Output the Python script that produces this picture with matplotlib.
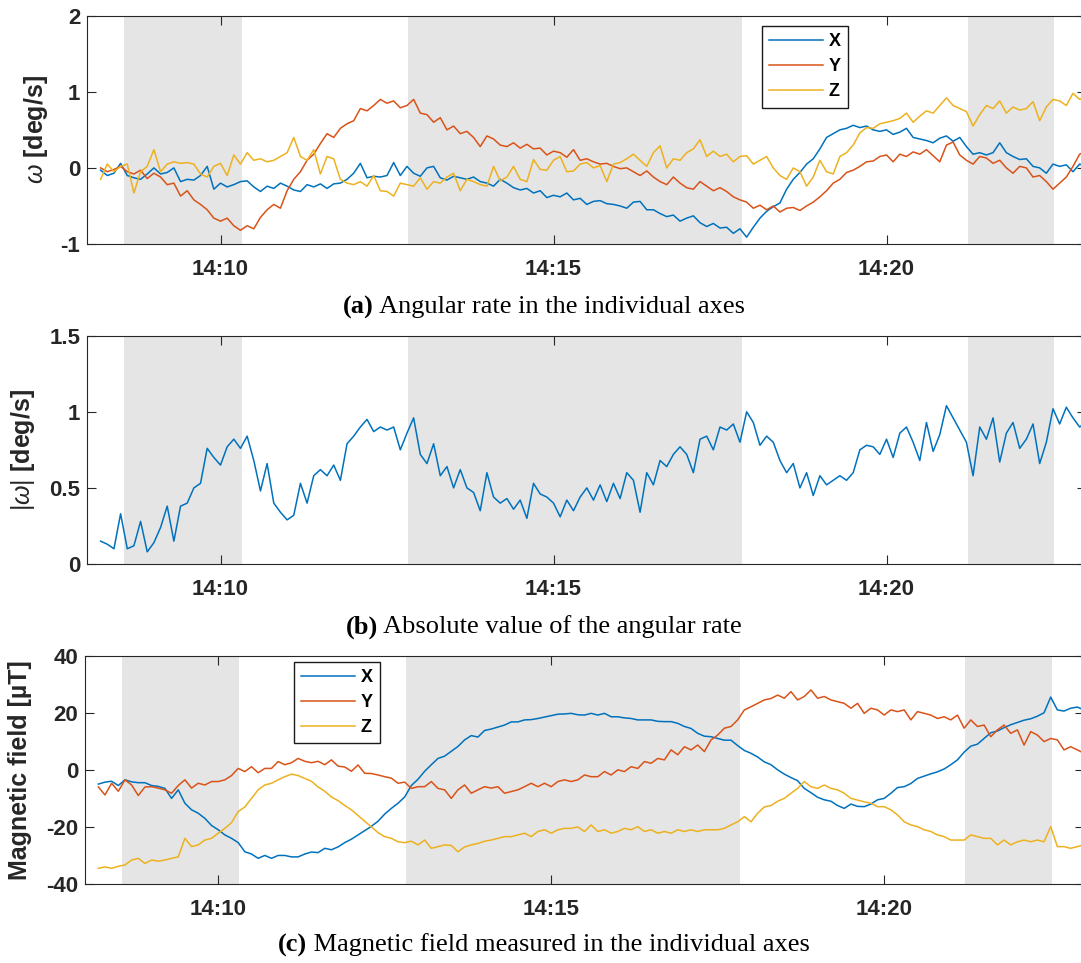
import numpy as np
import matplotlib
matplotlib.use("Agg")
import matplotlib.pyplot as plt
import matplotlib.dates as mdates

# ---------------------------------------------------------------------------
# Data: samples every 6 s starting at 14:08:12
# ---------------------------------------------------------------------------
start_time = "2019-01-01T14:08:12"
sample_step_s = 6

omega_x = [
    -0.03, -0.10, -0.07, 0.06, -0.10, -0.13, -0.15, -0.08, 0.00, -0.08,
    -0.06, 0.00, -0.18, -0.15, -0.16, -0.10, 0.02, -0.28, -0.20, -0.25,
    -0.22, -0.18, -0.17, -0.25, -0.31, -0.24, -0.27, -0.20, -0.24, -0.29,
    -0.31, -0.22, -0.25, -0.21, -0.27, -0.21, -0.20, -0.15, -0.07, 0.06,
    -0.13, -0.11, -0.12, -0.10, 0.07, -0.10, 0.02, -0.07, -0.11, 0.00,
    0.02, -0.13, -0.16, -0.11, -0.13, -0.15, -0.12, -0.18, -0.20, -0.24,
    -0.15, -0.20, -0.26, -0.29, -0.27, -0.33, -0.30, -0.39, -0.36, -0.38,
    -0.33, -0.42, -0.40, -0.48, -0.44, -0.43, -0.47, -0.48, -0.50, -0.53,
    -0.45, -0.44, -0.55, -0.55, -0.60, -0.64, -0.62, -0.70, -0.66, -0.63,
    -0.72, -0.77, -0.73, -0.79, -0.78, -0.86, -0.80, -0.91, -0.78, -0.66,
    -0.57, -0.51, -0.46, -0.28, -0.15, -0.06, 0.05, 0.12, 0.25, 0.40,
    0.45, 0.50, 0.52, 0.56, 0.53, 0.55, 0.50, 0.48, 0.50, 0.44,
    0.47, 0.52, 0.40, 0.38, 0.36, 0.33, 0.39, 0.42, 0.35, 0.40,
    0.28, 0.18, 0.20, 0.17, 0.20, 0.33, 0.20, 0.15, 0.11, 0.12,
    0.02, 0.00, -0.07, 0.05, 0.02, 0.04, -0.05, 0.05, 0.02,
]
omega_y = [
    0.00, -0.05, -0.02, 0.02, -0.05, -0.08, -0.03, -0.14, -0.07, -0.12,
    -0.22, -0.20, -0.37, -0.30, -0.42, -0.48, -0.55, -0.66, -0.70, -0.66,
    -0.76, -0.82, -0.76, -0.80, -0.65, -0.55, -0.48, -0.53, -0.30, -0.15,
    -0.05, 0.10, 0.18, 0.32, 0.45, 0.40, 0.52, 0.58, 0.62, 0.78,
    0.75, 0.82, 0.90, 0.85, 0.88, 0.79, 0.82, 0.90, 0.72, 0.70,
    0.60, 0.66, 0.50, 0.55, 0.45, 0.48, 0.40, 0.28, 0.42, 0.38,
    0.30, 0.28, 0.33, 0.26, 0.31, 0.25, 0.26, 0.17, 0.22, 0.20,
    0.14, 0.24, 0.10, 0.12, 0.08, 0.05, 0.06, 0.02, -0.01, 0.00,
    -0.05, -0.10, -0.04, -0.12, -0.18, -0.22, -0.12, -0.20, -0.26, -0.28,
    -0.18, -0.24, -0.30, -0.26, -0.31, -0.38, -0.42, -0.45, -0.53, -0.49,
    -0.55, -0.50, -0.58, -0.53, -0.52, -0.56, -0.50, -0.45, -0.38, -0.30,
    -0.20, -0.15, -0.06, -0.03, 0.02, 0.08, 0.09, 0.15, 0.17, 0.08,
    0.18, 0.15, 0.21, 0.18, 0.24, 0.16, 0.08, 0.30, 0.34, 0.17,
    0.10, 0.05, 0.15, 0.13, 0.06, 0.10, 0.00, -0.07, 0.02, 0.00,
    -0.12, -0.10, -0.18, -0.28, -0.20, -0.12, 0.02, 0.18, 0.22,
]
omega_z = [
    -0.15, 0.05, -0.05, 0.02, 0.05, -0.33, -0.05, 0.02, 0.24, -0.05,
    0.05, 0.08, 0.06, 0.07, 0.05, -0.08, -0.12, 0.02, 0.06, -0.10,
    0.17, 0.05, 0.20, 0.10, 0.12, 0.08, 0.10, 0.15, 0.20, 0.40,
    0.15, 0.10, 0.24, -0.08, 0.15, 0.12, -0.15, -0.20, -0.22, -0.18,
    -0.24, -0.10, -0.30, -0.31, -0.37, -0.20, -0.22, -0.24, -0.13, -0.28,
    -0.18, -0.20, -0.12, -0.07, -0.30, -0.15, -0.18, -0.22, -0.24, 0.02,
    -0.17, -0.12, 0.02, -0.15, -0.18, 0.11, -0.02, -0.03, 0.10, 0.15,
    -0.05, -0.04, 0.05, 0.07, 0.00, 0.03, -0.18, 0.05, 0.07, 0.12,
    0.18, 0.10, 0.02, 0.20, 0.29, 0.00, 0.12, 0.10, 0.20, 0.25,
    0.37, 0.15, 0.22, 0.15, 0.18, 0.08, 0.15, 0.16, 0.05, 0.10,
    0.15, 0.00, -0.10, -0.15, 0.00, -0.05, -0.24, -0.12, 0.10, -0.05,
    -0.08, 0.15, 0.20, 0.30, 0.46, 0.53, 0.52, 0.58, 0.60, 0.62,
    0.65, 0.72, 0.60, 0.68, 0.75, 0.72, 0.82, 0.92, 0.82, 0.78,
    0.74, 0.55, 0.70, 0.82, 0.78, 0.88, 0.72, 0.80, 0.76, 0.78,
    0.87, 0.62, 0.80, 0.90, 0.88, 0.82, 0.98, 0.90, 0.93,
]
omega_abs = [
    0.15, 0.13, 0.10, 0.33, 0.10, 0.12, 0.28, 0.08, 0.14, 0.24,
    0.38, 0.15, 0.38, 0.40, 0.50, 0.53, 0.76, 0.70, 0.65, 0.77,
    0.82, 0.76, 0.84, 0.68, 0.48, 0.66, 0.40, 0.34, 0.29, 0.32,
    0.53, 0.40, 0.58, 0.62, 0.58, 0.65, 0.55, 0.79, 0.84, 0.90,
    0.95, 0.87, 0.90, 0.88, 0.90, 0.75, 0.86, 0.96, 0.72, 0.66,
    0.79, 0.58, 0.64, 0.50, 0.62, 0.50, 0.47, 0.35, 0.60, 0.44,
    0.40, 0.43, 0.36, 0.42, 0.30, 0.53, 0.46, 0.44, 0.40, 0.31,
    0.42, 0.35, 0.44, 0.50, 0.42, 0.52, 0.41, 0.53, 0.43, 0.60,
    0.55, 0.34, 0.60, 0.52, 0.68, 0.64, 0.72, 0.77, 0.72, 0.60,
    0.82, 0.84, 0.75, 0.90, 0.88, 0.92, 0.80, 1.00, 0.93, 0.78,
    0.84, 0.80, 0.68, 0.60, 0.66, 0.50, 0.60, 0.45, 0.58, 0.52,
    0.55, 0.58, 0.55, 0.60, 0.75, 0.78, 0.77, 0.72, 0.82, 0.70,
    0.86, 0.90, 0.80, 0.68, 0.93, 0.74, 0.85, 1.04, 0.96, 0.88,
    0.80, 0.58, 0.90, 0.82, 0.96, 0.67, 0.86, 0.93, 0.76, 0.82,
    0.92, 0.66, 0.80, 1.02, 0.92, 1.03, 0.96, 0.90, 0.93,
]
mag_x = [
    -5.0, -4.3, -4.0, -5.5, -3.5, -4.2, -4.5, -4.5, -5.5, -5.8,
    -6.5, -10.0, -7.0, -11.7, -14.0, -15.2, -17.0, -19.5, -21.0, -22.8,
    -24.0, -25.5, -28.7, -29.5, -31.0, -30.0, -31.0, -30.0, -30.0, -30.5,
    -30.5, -29.5, -28.8, -29.0, -27.5, -28.0, -27.0, -25.5, -24.3, -22.8,
    -21.3, -19.8, -18.0, -15.5, -13.5, -11.7, -9.5, -5.5, -3.3, -0.5,
    1.8, 4.0, 4.8, 6.5, 8.2, 10.5, 12.0, 11.5, 13.8, 14.3,
    15.0, 15.7, 16.8, 16.8, 17.5, 17.6, 18.0, 18.5, 19.0, 19.5,
    19.6, 19.8, 19.3, 19.2, 19.8, 19.2, 19.8, 18.6, 18.6, 18.2,
    18.0, 17.5, 17.5, 17.5, 17.0, 16.9, 16.9, 16.3, 15.2, 14.5,
    12.8, 11.8, 11.6, 11.0, 10.4, 10.4, 8.5, 6.8, 5.8, 4.5,
    2.8, 1.8, 0.0, -1.5, -2.7, -3.8, -6.5, -8.0, -9.6, -10.5,
    -11.0, -12.5, -13.5, -12.0, -12.8, -12.9, -12.0, -10.5, -10.0, -8.2,
    -6.2, -5.9, -4.8, -3.0, -2.2, -1.4, -0.7, 0.3, 1.8, 3.5,
    6.2, 8.3, 9.0, 11.0, 13.0, 13.6, 14.8, 15.8, 16.6, 17.4,
    17.9, 18.8, 20.0, 25.5, 21.0, 20.6, 21.6, 22.0, 21.0,
]
mag_y = [
    -6.0, -8.8, -4.7, -7.5, -3.5, -5.3, -9.0, -6.0, -5.9, -6.4,
    -7.0, -8.2, -5.5, -3.5, -6.4, -4.7, -5.3, -4.1, -4.1, -3.5,
    -2.0, 0.5, -0.6, 1.1, -1.0, 0.5, 0.5, 2.9, 1.8, 2.5,
    4.0, 3.0, 2.5, 3.0, 1.8, 3.5, 1.3, 1.0, -0.5, 1.7,
    -1.2, -1.3, -1.8, -2.4, -2.9, -4.7, -4.3, -6.5, -5.9, -5.9,
    -4.1, -6.5, -7.0, -10.0, -7.0, -5.3, -8.2, -7.0, -5.9, -6.4,
    -5.9, -8.2, -7.6, -7.0, -5.9, -4.7, -5.9, -4.7, -5.9, -4.1,
    -3.5, -4.1, -3.5, -1.8, -2.4, -2.4, -0.6, -1.8, 0.0, -0.6,
    1.1, 0.5, 2.9, 2.3, 4.0, 3.5, 7.0, 5.3, 8.1, 7.0,
    8.7, 6.4, 10.5, 12.2, 14.6, 15.2, 17.5, 21.0, 22.1, 23.3,
    24.5, 25.0, 26.2, 25.1, 27.4, 24.5, 25.7, 28.0, 25.1, 25.7,
    24.5, 23.9, 23.3, 21.6, 23.3, 19.8, 21.6, 21.0, 19.2, 21.0,
    20.4, 21.0, 17.5, 20.4, 19.8, 19.2, 18.0, 18.6, 17.5, 19.2,
    14.6, 17.5, 15.2, 15.7, 11.6, 14.0, 15.7, 12.8, 14.0, 8.7,
    13.4, 12.2, 9.9, 11.0, 10.5, 7.0, 8.1, 7.0, 5.8,
]
mag_z = [
    -34.5, -34.0, -34.5, -33.8, -33.3, -31.6, -31.0, -32.8, -31.6, -32.0,
    -31.6, -31.0, -30.5, -24.0, -26.9, -26.3, -24.6, -24.0, -22.2, -20.5,
    -18.5, -14.6, -13.0, -10.0, -7.0, -5.3, -4.7, -3.5, -2.4, -1.5,
    -2.0, -3.0, -4.0, -6.0, -7.5, -9.5, -10.8, -12.5, -14.0, -16.0,
    -18.0, -20.0, -22.0, -23.4, -24.0, -25.2, -25.5, -25.0, -26.3, -24.6,
    -27.5, -26.9, -26.3, -26.5, -28.7, -27.0, -26.3, -25.8, -25.0, -24.6,
    -24.0, -23.4, -23.4, -22.8, -22.2, -23.4, -21.6, -21.0, -22.2, -21.0,
    -20.5, -20.5, -20.0, -21.6, -19.3, -21.6, -21.0, -22.2, -21.6, -20.5,
    -21.0, -19.9, -21.6, -21.0, -22.2, -21.6, -22.2, -21.0, -21.6, -21.0,
    -21.6, -21.0, -21.0, -21.0, -20.5, -19.3, -18.2, -16.4, -18.2, -15.2,
    -13.0, -12.5, -11.0, -10.0, -8.2, -6.5, -4.1, -5.9, -6.5, -5.3,
    -6.5, -7.0, -8.2, -10.0, -10.6, -11.2, -11.7, -12.9, -12.9, -14.0,
    -15.8, -18.2, -19.3, -19.9, -21.0, -21.6, -22.8, -23.4, -24.6, -24.6,
    -24.6, -22.8, -23.4, -24.0, -24.0, -26.3, -24.6, -26.3, -25.2, -24.6,
    -25.2, -24.6, -25.2, -19.9, -26.9, -26.9, -27.5, -26.9, -26.3,
]

# Shaded intervals (start, end)
shaded_intervals = [
    ("2019-01-01T14:08:33", "2019-01-01T14:10:19"),
    ("2019-01-01T14:12:49", "2019-01-01T14:17:50"),
    ("2019-01-01T14:21:13", "2019-01-01T14:22:31"),
]
time_limits = ("2019-01-01T14:08:00", "2019-01-01T14:23:00")

axis_labels = ["X", "Y", "Z"]
captions = [
    ("(a)", " Angular rate in the individual axes"),
    ("(b)", " Absolute value of the angular rate"),
    ("(c)", " Magnetic field measured in the individual axes"),
]

# ---------------------------------------------------------------------------
# Styling
# ---------------------------------------------------------------------------
plt.rcParams["font.family"] = ["Liberation Sans", "DejaVu Sans"]
plt.rcParams["mathtext.fontset"] = "custom"
plt.rcParams["mathtext.it"] = "Liberation Sans:italic"
plt.rcParams["mathtext.rm"] = "Liberation Sans"

colors = ["#0072BD", "#D95319", "#EDB120"]
band_color = "#e5e5e5"
ink = "#262626"
tick_size = 16
label_size = 18

W, H = 1081, 963
fig = plt.figure(figsize=(W / 100, H / 100), dpi=100)


def frac_rect(left, top, right, bottom):
    return [left / W, 1 - bottom / H, (right - left) / W, (bottom - top) / H]


n = len(omega_x)
t0 = np.datetime64(start_time)
times = t0 + np.arange(n) * np.timedelta64(sample_step_s, "s")
xlim = [np.datetime64(v) for v in time_limits]


def style_axes(ax, yticks, ylim):
    for a, b in shaded_intervals:
        ax.axvspan(np.datetime64(a), np.datetime64(b), color=band_color, lw=0, zorder=0)
    ax.set_xlim(*xlim)
    ax.set_ylim(*ylim)
    ax.set_yticks(yticks)
    ax.yaxis.set_major_formatter(plt.FuncFormatter(lambda v, p: f"{v:g}"))
    ax.xaxis.set_major_locator(mdates.MinuteLocator(byminute=[10, 15, 20]))
    ax.xaxis.set_major_formatter(mdates.DateFormatter("%H:%M"))
    ax.tick_params(direction="in", length=6.5, width=0.8, color=ink,
                   labelsize=tick_size, labelcolor=ink, top=True, right=True)
    ax.tick_params(axis="x", pad=11)
    ax.tick_params(axis="y", pad=5)
    for lab in ax.get_xticklabels() + ax.get_yticklabels():
        lab.set_fontweight("bold")
    for s in ax.spines.values():
        s.set_color(ink)
        s.set_linewidth(0.8)


def add_legend(ax, lines, anchor_px):
    leg = ax.legend(lines, axis_labels, loc="upper left",
                    bbox_to_anchor=(anchor_px[0] / W, 1 - anchor_px[1] / H),
                    bbox_transform=fig.transFigure, borderaxespad=0,
                    fancybox=False, framealpha=1, edgecolor="#1a1a1a",
                    prop={"weight": "bold", "size": 13},
                    handlelength=3.0, handletextpad=0.3, labelspacing=0.45,
                    borderpad=0.4)
    leg.get_frame().set_linewidth(1.0)
    for txt in leg.get_texts():
        txt.set_color("black")


# (a) angular rate per axis
ax1 = fig.add_axes(frac_rect(87.3, 15.7, 1086.3, 244))
la = []
for vals, c in zip([omega_x, omega_y, omega_z], colors):
    la += ax1.plot(times, vals, color=c, lw=1.1)
style_axes(ax1, [-1, 0, 1, 2], (-1, 2))
ax1.set_ylabel(r"$\omega$ [deg/s]", fontsize=label_size, fontweight="bold", color=ink)
ax1.yaxis.set_label_coords(-0.037, 0.5)
add_legend(ax1, la, (761.7, 26))

# (b) magnitude of angular rate
ax2 = fig.add_axes(frac_rect(87.3, 335.7, 1086.3, 564))
ax2.plot(times, omega_abs, color=colors[0], lw=1.1)
style_axes(ax2, [0, 0.5, 1, 1.5], (0, 1.5))
ax2.set_ylabel(r"$|\omega|$ [deg/s]", fontsize=label_size, fontweight="bold", color=ink)
ax2.yaxis.set_label_coords(-0.050, 0.5)

# (c) magnetic field per axis
ax3 = fig.add_axes(frac_rect(85, 655.7, 1084, 884))
lc = []
for vals, c in zip([mag_x, mag_y, mag_z], colors):
    lc += ax3.plot(times, vals, color=c, lw=1.1)
style_axes(ax3, [-40, -20, 0, 20, 40], (-40, 40))
ax3.set_ylabel("Magnetic field [µT]", fontsize=label_size, fontweight="bold", color=ink)
ax3.yaxis.set_label_coords(-0.053, 0.5)
add_legend(ax3, lc, (294, 661.7))

# Sub-figure captions
for (tag, text), yc in zip(captions, [307, 627, 945]):
    t1 = fig.text(0, 0, tag, fontsize=19, fontweight="bold",
                  family=["Liberation Serif"], color="black")
    t2 = fig.text(0, 0, text, fontsize=19, family=["Liberation Serif"], color="black")
    fig.canvas.draw()
    r = fig.canvas.get_renderer()
    w1 = t1.get_window_extent(r).width
    w2 = t2.get_window_extent(r).width
    x0 = 544 - (w1 + w2) / 2
    t1.set_position((x0 / W, 1 - yc / H))
    t2.set_position(((x0 + w1) / W, 1 - yc / H))
    t1.set_va("center")
    t2.set_va("center")

fig.savefig("out.png", dpi=100)
